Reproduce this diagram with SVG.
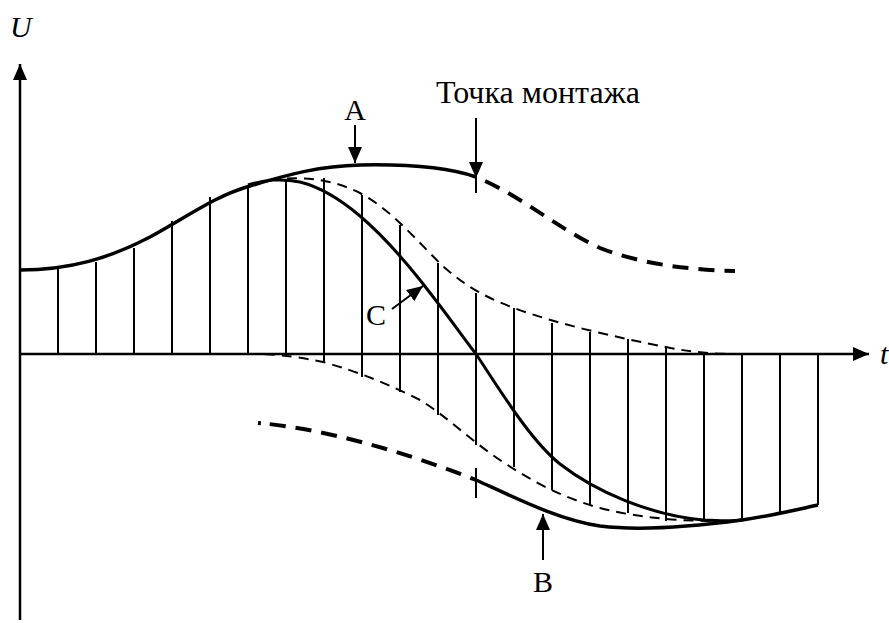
<svg xmlns="http://www.w3.org/2000/svg" width="889" height="623" viewBox="0 0 889 623">
<defs>
<marker id="ah" viewBox="0 0 16 14" refX="16" refY="7" markerWidth="16" markerHeight="14" markerUnits="userSpaceOnUse" orient="auto">
<path d="M0,0 L16,7 L0,14 z" fill="#000"/>
</marker>
</defs>
<style>
.axis{stroke:#000;stroke-width:2.5;fill:none}
.arr{stroke:#000;stroke-width:2;fill:none;marker-end:url(#ah)}
.thick{stroke:#000;stroke-width:3.5;fill:none}
.thickdash{stroke:#000;stroke-width:4;fill:none;stroke-dasharray:16 10}
.thin{stroke:#000;stroke-width:2;fill:none}
.thindash{stroke:#000;stroke-width:2;fill:none;stroke-dasharray:10 7}
.hatch line{stroke:#000;stroke-width:2}
.lbl{font-family:'Liberation Serif','Times New Roman',serif;font-size:30px;fill:#000}
.big{font-size:32px}
.it{font-style:italic}
</style>
<rect width="889" height="623" fill="#fff"/>

<g id="axes">
<line class="axis" x1="20" y1="620" x2="20" y2="64" style="marker-end:url(#ah)"/>
<line class="axis" x1="20" y1="354" x2="869" y2="354" style="marker-end:url(#ah)"/>
<text class="lbl it" x="10" y="37">U</text>
<text class="lbl it" x="880" y="364">t</text>
</g>

<g id="hatch" class="hatch">
<line x1="58" y1="354" x2="58" y2="269"/>
<line x1="96" y1="354" x2="96" y2="262"/>
<line x1="134" y1="354" x2="134" y2="248"/>
<line x1="172" y1="354" x2="172" y2="221"/>
<line x1="210" y1="354" x2="210" y2="197"/>
<line x1="248" y1="354" x2="248" y2="186"/>
<line x1="286" y1="354" x2="286" y2="181"/>
<line x1="324" y1="362" x2="324" y2="178"/>
<line x1="362" y1="377" x2="362" y2="195"/>
<line x1="400" y1="392" x2="400" y2="225"/>
<line x1="438" y1="415" x2="438" y2="263"/>
<line x1="476" y1="445" x2="476" y2="293"/>
<line x1="514" y1="467" x2="514" y2="308"/>
<line x1="552" y1="490" x2="552" y2="323"/>
<line x1="590" y1="505" x2="590" y2="332"/>
<line x1="628" y1="513" x2="628" y2="339"/>
<line x1="666" y1="521" x2="666" y2="347"/>
<line x1="704" y1="520" x2="704" y2="354"/>
<line x1="742" y1="520" x2="742" y2="354"/>
<line x1="780" y1="513" x2="780" y2="354"/>
<line x1="818" y1="505" x2="818" y2="354"/>
</g>

<g id="envelope">
<path class="thindash" d="M270,180 C300,176 330,178 360,193 C395,212 420,245 445,268 C465,285 480,295 514,308 C560,325 620,338 666,347 C690,352 710,354 742,354"/>
<path class="thindash" d="M248,354 C270,354 290,355 323,362 C360,372 392,386 420,400 C445,415 470,440 500,460 C530,480 560,497 600,508 C640,518 680,522 742,521"/>
</g>

<g id="curve-A">
<path class="thick" d="M20,270 C70,270 110,258 150,237 C190,215 215,196 250,186 C290,174 320,166 360,165 C410,164 450,168 476,177"/>
<path class="thickdash" d="M476,177 C520,195 560,230 600,248 C640,264 690,270 735,271" style="stroke-dashoffset:16"/>
</g>

<g id="curve-B">
<path class="thickdash" d="M258,423 C320,428 400,450 476,480" style="stroke-dasharray:3 9 16 10 16 10 16 10 16 10 16 10 16 10 16 10 16 10 16 10"/>
<path class="thick" d="M476,480 C520,500 560,520 600,526 C640,531 690,527 742,520 C770,516 795,510 818,505"/>
</g>

<g id="curve-C">
<path class="thin" style="stroke-width:3" d="M248,185 C265,180 280,178 300,182 C340,192 380,230 420,280 C450,318 465,340 476,354 C500,390 530,440 560,464 C596,492 650,515 703,520 C720,521 735,521 742,520"/>
</g>

<g id="connectors">
<line class="arr" x1="355" y1="125" x2="355" y2="163"/>
<line class="arr" x1="476" y1="118" x2="476" y2="178"/>
<line class="thin" x1="476" y1="176" x2="476" y2="193"/>
<line class="thin" x1="476" y1="468" x2="476" y2="498"/>
<line class="arr" x1="392" y1="309" x2="423" y2="286"/>
<line class="arr" x1="543" y1="560" x2="543" y2="514"/>
</g>

<g id="label-A"><text class="lbl" x="355" y="120" text-anchor="middle">A</text></g>
<g id="label-point"><text class="lbl big" x="436" y="103">Точка монтажа</text></g>
<g id="label-C"><text class="lbl" x="376" y="325" text-anchor="middle">C</text></g>
<g id="label-B"><text class="lbl" x="543" y="592" text-anchor="middle">B</text></g>
</svg>
